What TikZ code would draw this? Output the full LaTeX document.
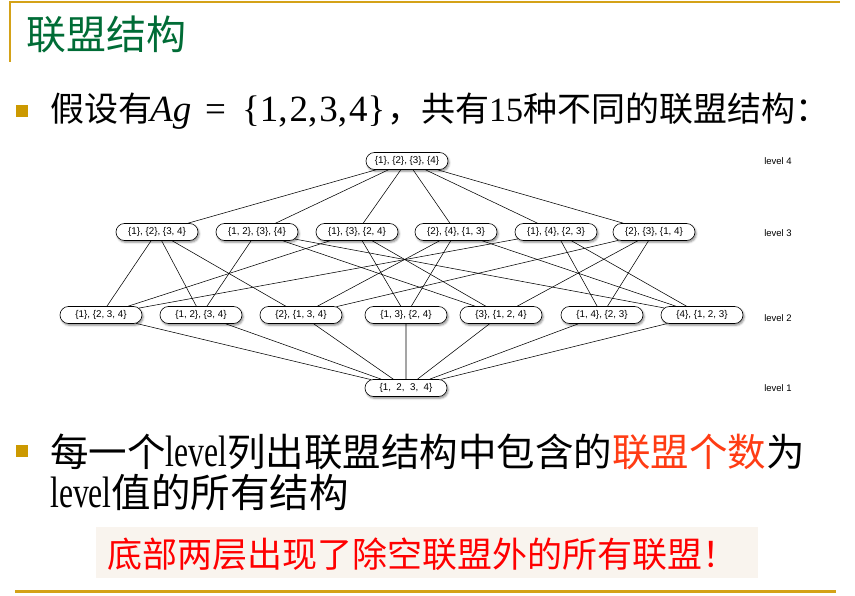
\documentclass[tikz,border=0pt]{standalone}
\usepackage{fontspec}
\usepackage{graphicx}
\setmainfont{Liberation Serif}
\newfontfamily\cjk{Noto Sans CJK SC}
\newfontfamily\gsans{Liberation Sans}
\usetikzlibrary{shapes.misc,shadows.blur}
\definecolor{gold}{RGB}{204,153,0}
\definecolor{goldline}{RGB}{212,162,24}
\definecolor{titlegreen}{RGB}{0,108,54}
\definecolor{orred}{RGB}{255,60,20}
\definecolor{boxbg}{RGB}{249,244,238}
\newcommand{\lvlword}{{\rmfamily\fontsize{44}{48}\selectfont\scalebox{0.72}[1]{level}}}
\begin{document}
\begin{tikzpicture}[x=1pt,y=-1pt,
  cs/.style={rounded rectangle, draw=black, line width=0.6pt, fill=white,
    minimum width=82pt, minimum height=17pt, inner sep=0pt,
    font=\gsans\fontsize{9.8}{11}\selectfont,
    blur shadow={shadow xshift=1.2pt, shadow yshift=-1.8pt, shadow blur radius=2pt, shadow opacity=45}},
  lvl/.style={font=\gsans\fontsize{9.5}{11}\selectfont, inner sep=0pt},
  edge/.style={draw=black, line width=0.55pt},
  bulletsq/.style={fill=gold, minimum size=12pt, inner sep=0pt},
  txt/.style={anchor=base west, inner sep=0pt}]
\useasboundingbox (0,0) rectangle (855,596);

% frame lines
\draw[goldline, line width=2pt] (10,62) -- (10,2) -- (840,2);
\draw[goldline, line width=3pt] (15,591) -- (836,591);

% title
\node[txt, text=titlegreen, font=\fontsize{40}{48}\cjk] (title) at (26,50) {联盟结构};

% bullet 1
\node[bulletsq] (b1) at (22,111) {};
\node[txt, font=\fontsize{34}{40}\cjk] (t1a) at (50,122) {假设有};
\node[txt, font=\fontsize{37}{40}\selectfont] (t1b) at (150,122) {\itshape Ag};
\node[txt, font=\fontsize{37}{40}\selectfont] (t1e) at (205,122) {=};
\node[txt, font=\fontsize{37}{40}\selectfont] (t1s) at (242,122) {\{1,\hspace{2pt}2,\hspace{2pt}3,\hspace{2pt}4\}};
\node[txt, font=\fontsize{34}{40}\cjk] (t1c) at (387,122) {，共有{\rmfamily 15}种不同的联盟结构：};

% graph
\node[cs] (L4) at (407,161) {\{1\}, \{2\}, \{3\}, \{4\}};

\node[cs] (A) at (157,232) {\{1\}, \{2\}, \{3, 4\}};
\node[cs] (B) at (257,232) {\{1, 2\}, \{3\}, \{4\}};
\node[cs] (C) at (357,232) {\{1\}, \{3\}, \{2, 4\}};
\node[cs] (D) at (456,232) {\{2\}, \{4\}, \{1, 3\}};
\node[cs] (E) at (556,232) {\{1\}, \{4\}, \{2, 3\}};
\node[cs] (F) at (654,232) {\{2\}, \{3\}, \{1, 4\}};

\node[cs] (a) at (101,315) {\{1\}, \{2, 3, 4\}};
\node[cs] (b) at (201,315) {\{1, 2\}, \{3, 4\}};
\node[cs] (c) at (301,315) {\{2\}, \{1, 3, 4\}};
\node[cs] (d) at (406,315) {\{1, 3\}, \{2, 4\}};
\node[cs] (e) at (501,315) {\{3\}, \{1, 2, 4\}};
\node[cs] (f) at (602,315) {\{1, 4\}, \{2, 3\}};
\node[cs] (g) at (702,315) {\{4\}, \{1, 2, 3\}};

\node[cs] (L1) at (406,388) {\{1,\ \ 2,\ \ 3,\ \ 4\}};

\foreach \t in {A,B,C,D,E,F} \draw[edge] (L4) -- (\t);
\foreach \s/\t in {A/a,A/b,A/c, B/b,B/e,B/g, C/a,C/d,C/e, D/c,D/d,D/g, E/a,E/f,E/g, F/c,F/e,F/f}
  \draw[edge] (\s) -- (\t);
\foreach \s in {a,b,c,d,e,f,g} \draw[edge] (\s) -- (L1);

\node[lvl] (lv4) at (778,161) {level 4};
\node[lvl] (lv3) at (778,233) {level 3};
\node[lvl] (lv2) at (778,318) {level 2};
\node[lvl] (lv1) at (778,388) {level 1};

% bullet 2
\node[bulletsq] (b2) at (22,451) {};
\node[txt, font=\fontsize{38.5}{46}\cjk] (t2a) at (50,466) {每一个\lvlword 列出联盟结构中包含的\textcolor{orred}{联盟个数}为};
\node[txt, font=\fontsize{39.5}{46}\cjk] (t2b) at (50,507) {\lvlword 值的所有结构};

% note box
\fill[boxbg] (96,527) rectangle (758,578);
\node[txt, text=red, font=\fontsize{35}{42}\cjk] (note) at (107,567) {底部两层出现了除空联盟外的所有联盟！};
\end{tikzpicture}
\end{document}
